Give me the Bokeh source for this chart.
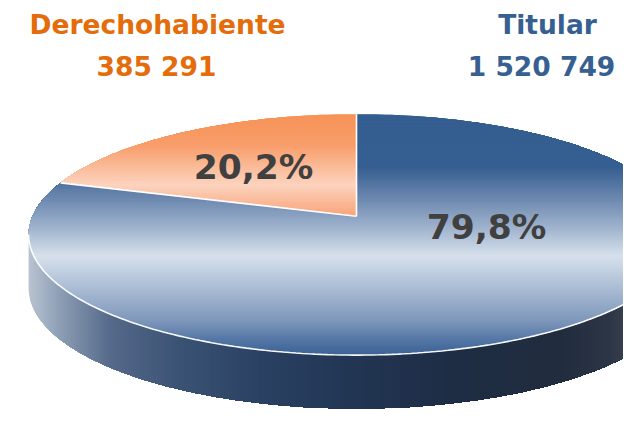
import numpy as np
from bokeh.plotting import figure
from bokeh.models import Range1d
from bokeh.embed import file_html
from bokeh.resources import INLINE
from bokeh.core.properties import value

# ---------------- data ----------------
categories = ["Derechohabiente", "Titular"]
counts = [385291, 1520749]
title_colors = ["#E46C0A", "#376092"]

# ---------------- layout / style ----------------
CX, CY0 = 356.0, 222.0      # slice vertex (reference px)
A, K, E = 324.0, 121.1, 0.1532   # perspective disk parameters
DEPTH = 55.0
START = 90.0                # first slice starts at 12 o'clock, counter-clockwise
FONT = "DejaVu Sans"

# top-surface vertical gradients (y -> colour) per slice
top_stops = [
    [(117, "#F79256"), (150, "#F89E6C"), (175, "#FBC0A0"), (190, "#FCD3BF"), (205, "#FABC9C"), (222, "#F9A47A"), (365, "#F9A47A")],
    [(117, "#345D90"), (172, "#365F91"), (200, "#6683AB"), (230, "#98ADC9"), (263, "#D6E0EC"), (300, "#A5B8D1"), (330, "#7D96BA"), (352, "#4E72A2"), (365, "#3D6296")],
]
# side horizontal gradient (x -> colour)
side_stops = [(28, "#B9C4D1"), (60, "#8C9DB4"), (110, "#55698A"), (180, "#3A5274"), (260, "#2A4163"),
              (350, "#223654"), (450, "#1E2D45"), (560, "#212C3D"), (610, "#2D3646"), (640, "#434B5A")]


def hex2rgb(h):
    h = h.lstrip("#")
    return [int(h[i:i + 2], 16) for i in (0, 2, 4)]


def grad(stops, t):
    pos = np.array([s[0] for s in stops], dtype=float)
    cols = np.array([hex2rgb(s[1]) for s in stops], dtype=float)
    ch = [float(np.interp(t, pos, cols[:, i])) for i in range(3)]
    return "#%02x%02x%02x" % tuple(int(round(c)) for c in ch)


def proj(u, v):
    w = 1 + E * v
    return CX + A * u / w, CY0 - K * v / w


def clip(pts, axis, thr):
    """keep the part of polygon pts with coordinate[axis] >= thr"""
    out = []
    n = len(pts)
    for i in range(n):
        cur, prev = pts[i], pts[i - 1]
        cin, pin = cur[axis] >= thr, prev[axis] >= thr
        if cin != pin:
            t = (thr - prev[axis]) / (cur[axis] - prev[axis])
            out.append((prev[0] + t * (cur[0] - prev[0]), prev[1] + t * (cur[1] - prev[1])))
        if cin:
            out.append(cur)
    return out


total = float(sum(counts))
fracs = [c / total for c in counts]
cum = np.cumsum(fracs) * 360.0
edges = np.concatenate([[START], START + cum])

p = figure(width=623, height=409, output_backend="svg", toolbar_location=None,
           x_axis_location=None, y_axis_location=None, min_border=0,
           background_fill_color="white", border_fill_color="white")
p.x_range = Range1d(0, 623)
p.y_range = Range1d(421, 0)
p.grid.visible = False
p.outline_line_color = None

# ---------------- side of the cylinder (painter's bands, left to right) ----------------
t = np.linspace(np.pi + np.arcsin(E), 2 * np.pi - np.arcsin(E), 170)
ax, ay = proj(np.cos(t), np.sin(t))
side_poly = list(zip(ax, ay)) + list(zip(ax[::-1], ay[::-1] + DEPTH))
sx, sy, sc = [], [], []
step = 2.0
xk = float(np.floor(ax.min()))
while xk < 624:
    poly = clip(side_poly, 0, xk)
    if len(poly) >= 3:
        sx.append([q[0] for q in poly])
        sy.append([q[1] for q in poly])
        sc.append(grad(side_stops, xk + step / 2))
    xk += step
p.patches(sx, sy, fill_color=sc, fill_alpha=1.0, line_color=None)

# ---------------- top surface (painter's bands, top to bottom) ----------------
ytop = proj(0, 1)[1]
ybot = proj(0, -1)[1]
tx, ty, tc = [], [], []
for i in range(len(counts)):
    a0, a1 = edges[i], edges[i + 1]
    angs = np.radians(np.linspace(a0, a1, max(int(a1 - a0), 2) + 1))
    px, py = proj(np.cos(angs), np.sin(angs))
    slice_poly = [(CX, CY0)] + list(zip(px, py))
    yk = float(np.floor(ytop))
    stepy = 1.5
    while yk < ybot:
        poly = clip(slice_poly, 1, yk)
        if len(poly) >= 3:
            tx.append([q[0] for q in poly])
            ty.append([q[1] for q in poly])
            tc.append(grad(top_stops[i], yk + stepy / 2))
        yk += stepy
p.patches(tx, ty, fill_color=tc, fill_alpha=1.0, line_color=None)

# white rim along front edge
p.line(ax, ay, line_color="white", line_width=1.6, line_alpha=0.95)

# white separators between slices
for ang in edges[:-1]:
    rad = np.radians(ang)
    ex, ey = proj(np.cos(rad), np.sin(rad))
    p.line([CX, ex], [CY0, ey], line_color="white", line_width=1.6)

# ---------------- labels ----------------
p.text(x=[157, 547], y=[25, 25], text=categories, text_color=title_colors,
       text_font=value(FONT), text_font_style="bold", text_font_size="26.5px",
       text_align="center", text_baseline="alphabetic")
nums = [f"{c:,}".replace(",", " ") for c in counts]
p.text(x=[156, 541], y=[68, 68], text=nums, text_color=title_colors,
       text_font=value(FONT), text_font_style="bold", text_font_size="26.5px",
       text_align="center", text_baseline="alphabetic")

pct = [f"{f * 100:.1f}%".replace(".", ",") for f in fracs]
p.text(x=[253, 486], y=[171, 233], text=pct, text_color="#404040",
       text_font=value(FONT), text_font_style="bold", text_font_size="34.5px",
       text_align="center", text_baseline="alphabetic")

open("out.html", "w").write(file_html(p, INLINE))
